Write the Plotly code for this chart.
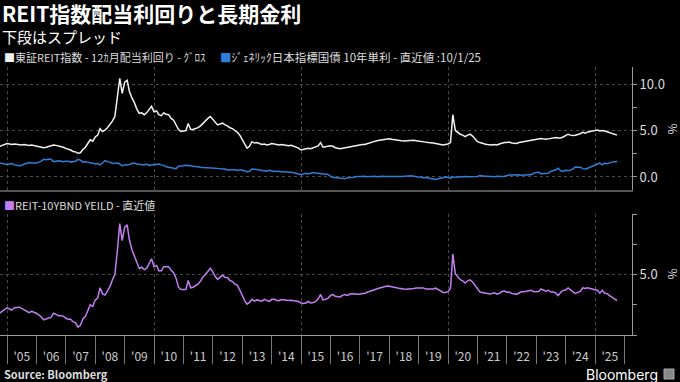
import pandas as pd
import plotly.graph_objects as go

# ---- data (monthly, Oct 2004 – Oct 2025) ----
start_month = "2004-10-01"

reit_yield = [
    # 2004 Oct-Dec
    3.30, 3.40, 3.50,
    # 2005
    3.60, 3.55, 3.50, 3.55, 3.50, 3.50, 3.45, 3.50, 3.45, 3.40, 3.45, 3.40,
    # 2006
    3.30, 3.25, 3.20, 3.15, 3.20, 3.30, 3.35, 3.45, 3.40, 3.35, 3.30, 3.20,
    # 2007
    3.08, 3.00, 2.90, 2.75, 2.70, 2.55, 2.60, 2.95, 3.20, 3.60, 4.00, 3.85,
    # 2008
    4.30, 4.50, 5.20, 4.90, 5.05, 5.30, 5.60, 6.00, 6.50, 8.40, 10.60, 9.00,
    # 2009
    10.20, 10.40, 9.20, 8.50, 8.00, 7.30, 6.85, 6.90, 6.70, 6.90, 7.20, 7.60,
    # 2010
    7.00, 7.10, 6.70, 6.60, 6.90, 6.75, 6.70, 6.30, 6.10, 5.60, 5.10, 4.90,
    # 2011
    4.95, 5.00, 5.75, 5.10, 5.10, 5.20, 5.30, 5.50, 5.80, 6.00, 6.30, 6.50,
    # 2012
    6.20, 5.80, 5.60, 5.70, 5.80, 5.60, 5.50, 5.30, 5.20, 5.00, 4.80, 4.50,
    # 2013
    4.00, 3.50, 3.10, 3.30, 3.80, 3.65, 3.70, 3.60, 3.50, 3.55, 3.45, 3.50,
    # 2014
    3.60, 3.55, 3.50, 3.45, 3.50, 3.45, 3.40, 3.35, 3.40, 3.30, 3.20, 3.10,
    # 2015
    2.90, 2.95, 3.05, 3.10, 3.05, 3.15, 3.20, 3.35, 3.70, 3.20, 3.25, 3.30,
    # 2016
    3.35, 3.30, 3.15, 3.10, 3.05, 3.10, 3.15, 3.20, 3.30, 3.35, 3.40, 3.45,
    # 2017
    3.45, 3.50, 3.50, 3.55, 3.65, 3.75, 3.85, 3.90, 3.95, 4.00, 4.05, 4.10,
    # 2018
    4.10, 4.05, 4.00, 3.95, 3.90, 3.90, 3.88, 3.90, 3.92, 3.95, 3.94, 3.90,
    # 2019
    3.88, 3.85, 3.80, 3.75, 3.70, 3.70, 3.65, 3.60, 3.55, 3.50, 3.45, 3.50,
    # 2020
    3.55, 3.70, 6.70, 5.00, 4.80, 4.60, 4.50, 4.35, 4.50, 4.60, 4.40, 4.10,
    # 2021
    3.80, 3.70, 3.60, 3.55, 3.50, 3.45, 3.45, 3.50, 3.45, 3.55, 3.65, 3.70,
    # 2022
    3.70, 3.75, 3.65, 3.60, 3.60, 3.70, 3.75, 3.80, 3.85, 3.90, 3.95, 4.00,
    # 2023
    4.05, 4.10, 4.15, 4.10, 4.05, 4.10, 4.15, 4.20, 4.25, 4.20, 4.20, 4.30,
    # 2024
    4.45, 4.60, 4.50, 4.45, 4.50, 4.55, 4.65, 4.80, 4.70, 4.85, 4.90, 4.95,
    # 2025 Jan-Oct
    5.00, 5.05, 4.95, 5.00, 4.95, 4.85, 4.80, 4.70, 4.60, 4.50,
]

jgb_10y = [
    # 2004 Oct-Dec
    1.50, 1.45, 1.40,
    # 2005
    1.35, 1.40, 1.45, 1.30, 1.25, 1.20, 1.25, 1.40, 1.45, 1.55, 1.50, 1.50,
    # 2006
    1.50, 1.60, 1.70, 1.90, 1.85, 1.90, 1.90, 1.65, 1.70, 1.75, 1.70, 1.65,
    # 2007
    1.70, 1.70, 1.60, 1.65, 1.70, 1.90, 1.80, 1.60, 1.65, 1.60, 1.50, 1.50,
    # 2008
    1.40, 1.45, 1.30, 1.50, 1.75, 1.65, 1.60, 1.45, 1.50, 1.50, 1.40, 1.20,
    # 2009
    1.30, 1.30, 1.35, 1.45, 1.50, 1.40, 1.35, 1.30, 1.30, 1.40, 1.25, 1.30,
    # 2010
    1.35, 1.35, 1.40, 1.30, 1.25, 1.10, 1.05, 0.95, 0.95, 0.90, 1.15, 1.15,
    # 2011
    1.20, 1.25, 1.25, 1.20, 1.15, 1.15, 1.10, 1.05, 1.00, 1.00, 1.00, 0.98,
    # 2012
    0.98, 0.97, 1.00, 0.90, 0.85, 0.85, 0.75, 0.80, 0.78, 0.78, 0.70, 0.78,
    # 2013
    0.75, 0.68, 0.55, 0.60, 0.85, 0.85, 0.80, 0.75, 0.70, 0.60, 0.62, 0.72,
    # 2014
    0.65, 0.60, 0.63, 0.62, 0.57, 0.56, 0.54, 0.50, 0.52, 0.45, 0.42, 0.33,
    # 2015
    0.25, 0.35, 0.40, 0.33, 0.40, 0.47, 0.42, 0.38, 0.35, 0.30, 0.30, 0.27,
    # 2016
    0.10, -0.05, -0.05, -0.10, -0.10, -0.20, -0.20, -0.07, -0.09, -0.05, 0.02, 0.05,
    # 2017
    0.08, 0.08, 0.07, 0.02, 0.05, 0.07, 0.08, 0.02, 0.06, 0.07, 0.04, 0.05,
    # 2018
    0.08, 0.05, 0.05, 0.05, 0.04, 0.04, 0.08, 0.11, 0.13, 0.13, 0.09, 0.01,
    # 2019
    0.00, -0.03, -0.09, -0.05, -0.10, -0.16, -0.15, -0.27, -0.20, -0.13, -0.07, -0.01,
    # 2020
    -0.03, -0.15, 0.02, -0.04, 0.00, 0.03, 0.02, 0.05, 0.02, 0.04, 0.02, 0.02,
    # 2021
    0.05, 0.15, 0.09, 0.09, 0.08, 0.06, 0.02, 0.02, 0.07, 0.10, 0.06, 0.07,
    # 2022
    0.17, 0.20, 0.21, 0.23, 0.24, 0.23, 0.18, 0.22, 0.25, 0.25, 0.25, 0.42,
    # 2023
    0.49, 0.50, 0.35, 0.39, 0.43, 0.40, 0.60, 0.65, 0.77, 0.95, 0.67, 0.61,
    # 2024
    0.73, 0.71, 0.73, 0.88, 1.07, 1.05, 1.05, 0.90, 0.86, 0.94, 1.05, 1.10,
    # 2025 Jan-Oct
    1.24, 1.37, 1.49, 1.31, 1.50, 1.43, 1.55, 1.60, 1.65, 1.66,
]

# Lower panel as the chart defines it: REIT yield minus 10-year JGB yield
spread = [round(r - j, 2) for r, j in zip(reit_yield, jgb_10y)]

dates = pd.date_range(start_month, periods=len(reit_yield), freq="MS")

x_range = ["2004-10-05", "2026-04-05"]
grid_tick0 = "2010-01-01"
year_tick0 = "2005-01-01"

title = "<b>REIT指数配当利回りと長期金利</b>"
subtitle = "下段はスプレッド"
legend_reit = "東証REIT指数 - 12ｶ月配当利回り - ｸﾞﾛｽ"
legend_jgb = "ｼﾞｪﾈﾘｯｸ日本指標国債 10年単利 - 直近値 :10/1/25"
legend_spread = "REIT-10YBND YEILD - 直近値"
unit = "%"

C_REIT = "#f2f2f2"
C_JGB = "#2f7ed8"
C_SPREAD = "#c47ef2"
GRID = "#4a4a4a"
AXIS = "#9a9a9a"
FONT = "Noto Sans CJK JP, Noto Sans, sans-serif"

W, H = 680, 382
def px_x(p):
    return p / W
def px_y(p):
    return 1 - p / H

fig = go.Figure()
fig.add_trace(go.Scatter(x=dates, y=reit_yield, mode="lines",
                         line=dict(color=C_REIT, width=1.5),
                         xaxis="x", yaxis="y", showlegend=False))
fig.add_trace(go.Scatter(x=dates, y=jgb_10y, mode="lines",
                         line=dict(color=C_JGB, width=1.5),
                         xaxis="x", yaxis="y", showlegend=False))
fig.add_trace(go.Scatter(x=dates, y=spread, mode="lines",
                         line=dict(color=C_SPREAD, width=1.5),
                         xaxis="x2", yaxis="y2", showlegend=False))
# carrier for the year-label axis
fig.add_trace(go.Scatter(x=[dates[0]], y=[None], mode="lines",
                         xaxis="x3", yaxis="y2", showlegend=False, hoverinfo="skip"))

dom_x = [0, px_x(632)]
top_dom = [px_y(190), px_y(67)]
bot_dom = [px_y(335), px_y(214)]

fig.update_layout(
    width=W, height=H,
    margin=dict(l=0, r=0, t=0, b=0),
    paper_bgcolor="#000000", plot_bgcolor="#000000",
    font=dict(family=FONT, color="#dddddd"),
    xaxis=dict(domain=dom_x, anchor="y", type="date", range=x_range,
               dtick="M60", tick0=grid_tick0, showticklabels=False, ticks="",
               showgrid=True, gridcolor=GRID, griddash="dot", gridwidth=1,
               showline=True, linecolor="#555555", linewidth=2, zeroline=False),
    yaxis=dict(domain=top_dom, anchor="x", side="right", range=[-1.4, 11.83],
               tick0=0, dtick=5, tickformat=".1f", ticks="outside", ticklen=4,
               tickcolor=AXIS, showline=True, linecolor=AXIS, linewidth=1,
               showgrid=True, gridcolor=GRID, griddash="dot", zeroline=False,
               tickfont=dict(size=13, color="#dddddd"),
               minor=dict(tick0=0, dtick=2.5, ticks="outside", ticklen=4,
                          tickcolor=AXIS, showgrid=False)),
    xaxis2=dict(domain=dom_x, anchor="y2", type="date", range=x_range,
                dtick="M60", tick0=grid_tick0, showticklabels=False, ticks="",
                showgrid=True, gridcolor=GRID, griddash="dot", gridwidth=1,
                showline=True, linecolor=AXIS, linewidth=1, zeroline=False),
    xaxis3=dict(domain=dom_x, anchor="y2", overlaying="x2", type="date",
                range=x_range, dtick="M12", tick0=year_tick0, tickformat="'%y",
                ticklabelmode="period", ticks="outside", ticklen=28,
                tickcolor="#777777", ticklabelstandoff=-17,
                tickfont=dict(size=12, color="#cccccc"),
                showgrid=False, showline=False, zeroline=False),
    yaxis2=dict(domain=bot_dom, anchor="x2", side="right", range=[0, 10],
                tickvals=[0, 5, 10], ticktext=["", "5.0", ""], ticks="outside",
                ticklen=4, tickcolor=AXIS, showline=True, linecolor=AXIS,
                linewidth=1, showgrid=True, gridcolor=GRID, griddash="dot",
                zeroline=False, tickfont=dict(size=13, color="#dddddd"),
                minor=dict(tick0=0, dtick=2.5, ticks="outside", ticklen=4,
                           tickcolor=AXIS, showgrid=False)),
)

ann = [
    dict(x=px_x(1), y=px_y(13), text=title, font=dict(size=21, color="#ffffff")),
    dict(x=px_x(1), y=px_y(37), text=subtitle, font=dict(size=15, color="#ffffff")),
    dict(x=px_x(3), y=px_y(57),
         text=f"<span style='color:{C_REIT}'>■</span>{legend_reit}",
         font=dict(size=11, color="#dddddd")),
    dict(x=px_x(219), y=px_y(57),
         text=f"<span style='color:{C_JGB}'>■</span>{legend_jgb}",
         font=dict(size=11.5, color="#dddddd")),
    dict(x=px_x(3), y=px_y(205),
         text=f"<span style='color:{C_SPREAD}'>■</span>{legend_spread}",
         font=dict(size=11, color="#dddddd")),
    dict(x=px_x(3), y=px_y(374), text="<b>Source: Bloomberg</b>",
         font=dict(size=11, color="#dddddd")),
]
for a in ann:
    a.update(xref="paper", yref="paper", xanchor="left", yanchor="middle",
             showarrow=False, borderpad=0)
fig.update_layout(annotations=ann)

# rotated unit labels to the right of each value axis
for yc in (129, 274):
    fig.add_annotation(x=px_x(664), y=px_y(yc), xref="paper", yref="paper",
                       xanchor="left", yanchor="middle", borderpad=0,
                       text=unit, textangle=90, showarrow=False,
                       font=dict(size=12, color="#dddddd"))

fig.add_annotation(x=px_x(659), y=px_y(374), xref="paper", yref="paper",
                   xanchor="right", yanchor="middle", text="Bloomberg",
                   showarrow=False, borderpad=0,
                   font=dict(size=14, color="#ffffff", family="Inter, Roboto, sans-serif"))
fig.add_shape(type="rect", xref="paper", yref="paper",
              x0=px_x(664), x1=px_x(674), y0=px_y(379), y1=px_y(369),
              line=dict(color="#aaaaaa", width=1), fillcolor="#888888")

fig.write_html("out.html", config={"displayModeBar": False},
               post_script="document.body.style.margin='0';document.body.style.overflow='hidden';")
